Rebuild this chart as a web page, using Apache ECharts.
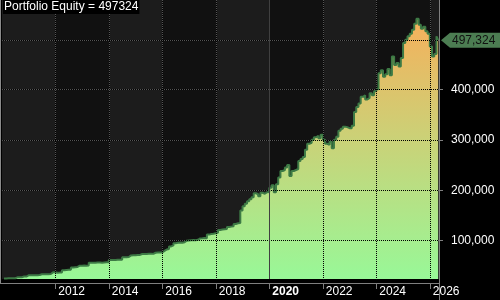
<!DOCTYPE html>
<html><head><meta charset="utf-8">
<script src="https://cdn.jsdelivr.net/npm/echarts@6/dist/echarts.min.js"></script>
<style>html,body{margin:0;padding:0;background:#000;}#c{width:500px;height:300px;}</style>
</head><body><div id="c"></div>
<script>
// ---- data (monthly equity) ----
const startYear = 2010;
const startMonth = 2; // first value is Feb 2010
const v2010 = [25000, 25300, 25400, 25500, 25600, 27300, 27500, 27600, 28800, 28900, 31300];
const v2011 = [31500, 31400, 31600, 31500, 31800, 33400, 33600, 33300, 33500, 34000, 37200, 37400];
const v2012 = [36500, 36700, 37000, 41500, 42000, 42300, 42500, 47000, 47400, 47800, 50300, 50500];
const v2013 = [50600, 50400, 50800, 56000, 56300, 56000, 56500, 56800, 56400, 56700, 57000, 57200];
const v2014 = [61500, 61800, 61600, 62000, 62300, 62000, 67000, 67300, 67500, 70800, 71000, 71200];
const v2015 = [71500, 71700, 73500, 73700, 73600, 73900, 74000, 73800, 76000, 76300, 76500, 76400];
const v2016 = [79600, 82500, 83500, 88500, 90500, 95000, 96000, 96500, 95800, 97000, 100000, 100500];
const v2017 = [101000, 101500, 100800, 101800, 104500, 104800, 105200, 105000, 112000, 113000, 113500, 114500];
const v2018 = [116000, 121000, 122000, 122600, 123000, 127000, 127800, 128500, 133000, 134500, 135000, 160000];
const v2019 = [168000, 173000, 178000, 182000, 186000, 194000, 192000, 188000, 195000, 193000, 196000, 196500];
const v2020 = [205000, 210000, 196000, 212000, 225000, 238000, 240000, 245000, 250000, 228000, 238000, 240000];
const v2021 = [242000, 258000, 262000, 266000, 280000, 292000, 294000, 300000, 305000, 308000, 303000, 310000];
const v2022 = [300000, 292000, 290000, 296000, 283000, 300000, 306000, 318000, 322000, 326000, 325000, 323000];
const v2023 = [323000, 328000, 355000, 365000, 372000, 385000, 388000, 380000, 383000, 392000, 388000, 396000];
const v2024 = [400000, 432000, 438000, 425000, 430000, 440000, 428000, 465000, 448000, 452000, 445000, 462000];
const v2025 = [492000, 498000, 505000, 510000, 518000, 530000, 540000, 528000, 520000, 524000, 515000, 510000];
const v2026 = [485000, 465000, 470000, 505000];
const lastDate = [2026, 4, 24];
const lastValue = 497324;

const xTickYears = [2012, 2014, 2016, 2018, 2020, 2022, 2024, 2026];
const boldYear = 2020;
const yTicks = [100000, 200000, 300000, 400000];
const darkBands = [[2012, 2014], [2016, 2018], [2020, 2022], [2024, 2026]];

// ---- build series data (x as decimal year) ----
const decYear = (y, m, d) => y + (m - 1) / 12 + (d - 1) / 365;
const yearArrays = [v2010, v2011, v2012, v2013, v2014, v2015, v2016, v2017, v2018, v2019, v2020, v2021, v2022, v2023, v2024, v2025, v2026];
const equity = [];
yearArrays.forEach((arr, yi) => {
  const y = startYear + yi;
  const m0 = yi === 0 ? startMonth : 1;
  arr.forEach((v, k) => equity.push([decYear(y, m0 + k, 1), v]));
});
equity.push([decYear(lastDate[0], lastDate[1], lastDate[2]), lastValue]);

const FONT = 'Arial, "Liberation Sans", sans-serif';
const hLines = yTicks.concat([lastValue]).map(v => ({ yAxis: v }));
const vLines = xTickYears.filter(y => y !== boldYear).map(y => ({ xAxis: y }));
const bandData = darkBands.map(b => [{ xAxis: b[0] }, { xAxis: b[1] }]);

const chart = echarts.init(document.getElementById('c'), null, { renderer: 'canvas' });
chart.setOption({
  backgroundColor: '#000',
  animation: false,
  title: {
    text: 'Portfolio Equity = ' + lastValue,
    left: 3, top: 0, padding: [1, 1, 1, 1],
    backgroundColor: '#000',
    textStyle: { color: '#fff', fontSize: 12, fontWeight: 'normal', fontFamily: FONT, lineHeight: 12 }
  },
  grid: { left: 2, right: 61, top: 0, bottom: 21, show: true, backgroundColor: '#1c1c1c', borderWidth: 0 },
  xAxis: {
    type: 'value', min: 2010.0075, max: 2026.344, offset: 4,
    axisLine: { show: true, lineStyle: { color: '#7f7f7f', width: 1 } },
    axisTick: { show: true, customValues: xTickYears, length: 6, lineStyle: { color: '#7f7f7f' } },
    axisLabel: {
      customValues: xTickYears, align: 'left', margin: 3, padding: [0, 0, 0, 3], hideOverlap: false,
      formatter: v => (Math.round(v) === boldYear ? '{b|' + Math.round(v) + '}' : '{n|' + Math.round(v) + '}'),
      rich: {
        n: { color: '#fff', fontSize: 12, fontFamily: FONT },
        b: { color: '#fff', fontSize: 12, fontFamily: FONT, fontWeight: 'bold' }
      }
    },
    splitLine: { show: false }
  },
  yAxis: {
    type: 'value', position: 'right', min: 24000, max: 577000,
    axisLine: { show: false },
    axisTick: { show: true, customValues: yTicks, length: 4, lineStyle: { color: '#7f7f7f' } },
    axisLabel: { customValues: yTicks, margin: 12, color: '#fff', fontSize: 12, fontFamily: FONT,
      formatter: v => v.toLocaleString('en-US') },
    splitLine: { show: false }
  },
  series: [
    {
      type: 'line', data: equity, symbol: 'none', silent: true, z: 1,
      lineStyle: { opacity: 0 },
      markArea: { silent: true, z: 1, itemStyle: { color: '#111111' }, data: bandData },
      markLine: { silent: true, z: 1.5, symbol: 'none', label: { show: false },
        lineStyle: { color: '#555555', type: [1, 1], width: 1 },
        data: hLines.concat(vLines) }
    },
    {
      type: 'line', data: equity, step: 'end', symbol: 'none', silent: true, z: 3,
      lineStyle: { color: '#3d7a45', width: 2 },
      areaStyle: { origin: 'start', opacity: 1,
        color: new echarts.graphic.LinearGradient(0, 0, 0, 1, [
          { offset: 0, color: '#f6b05b' }, { offset: 1, color: '#98f898' }]) }
    },
    {
      type: 'line', data: equity, symbol: 'none', silent: true, z: 4,
      lineStyle: { opacity: 0 },
      markLine: { silent: true, z: 4, symbol: 'none', label: { show: false },
        lineStyle: { color: '#000000', type: [1, 1], dashOffset: 1, width: 1 },
        data: hLines.concat(vLines).concat([{ xAxis: boldYear, lineStyle: { type: 'solid', color: '#404040' } }]) }
    }
  ]
});

const py = chart.convertToPixel({ yAxisIndex: 0 }, lastValue);
chart.setOption({
  graphic: [
    { type: 'rect', silent: true, shape: { x: 0, y: 0, width: 1, height: 283 }, style: { fill: '#8a8a8a' } },
    { type: 'line', silent: true, shape: { x1: 0, y1: 283.5, x2: 2, y2: 283.5 }, style: { stroke: '#7f7f7f', lineWidth: 1 } },
    { type: 'line', silent: true, shape: { x1: 439.5, y1: 0, x2: 439.5, y2: 300 }, style: { stroke: '#7f7f7f', lineWidth: 1 } },
    { type: 'polygon', silent: true, shape: { points: [[441, py], [450, py - 7.5], [500, py - 7.5], [500, py + 7.5], [450, py + 7.5]] },
      style: { fill: '#4c7d52' } },
    { type: 'text', silent: true, x: 452, y: py, style: { text: lastValue.toLocaleString('en-US'), fill: '#111', font: '12px ' + FONT, verticalAlign: 'middle', align: 'left' } }
  ]
});
</script></body></html>
